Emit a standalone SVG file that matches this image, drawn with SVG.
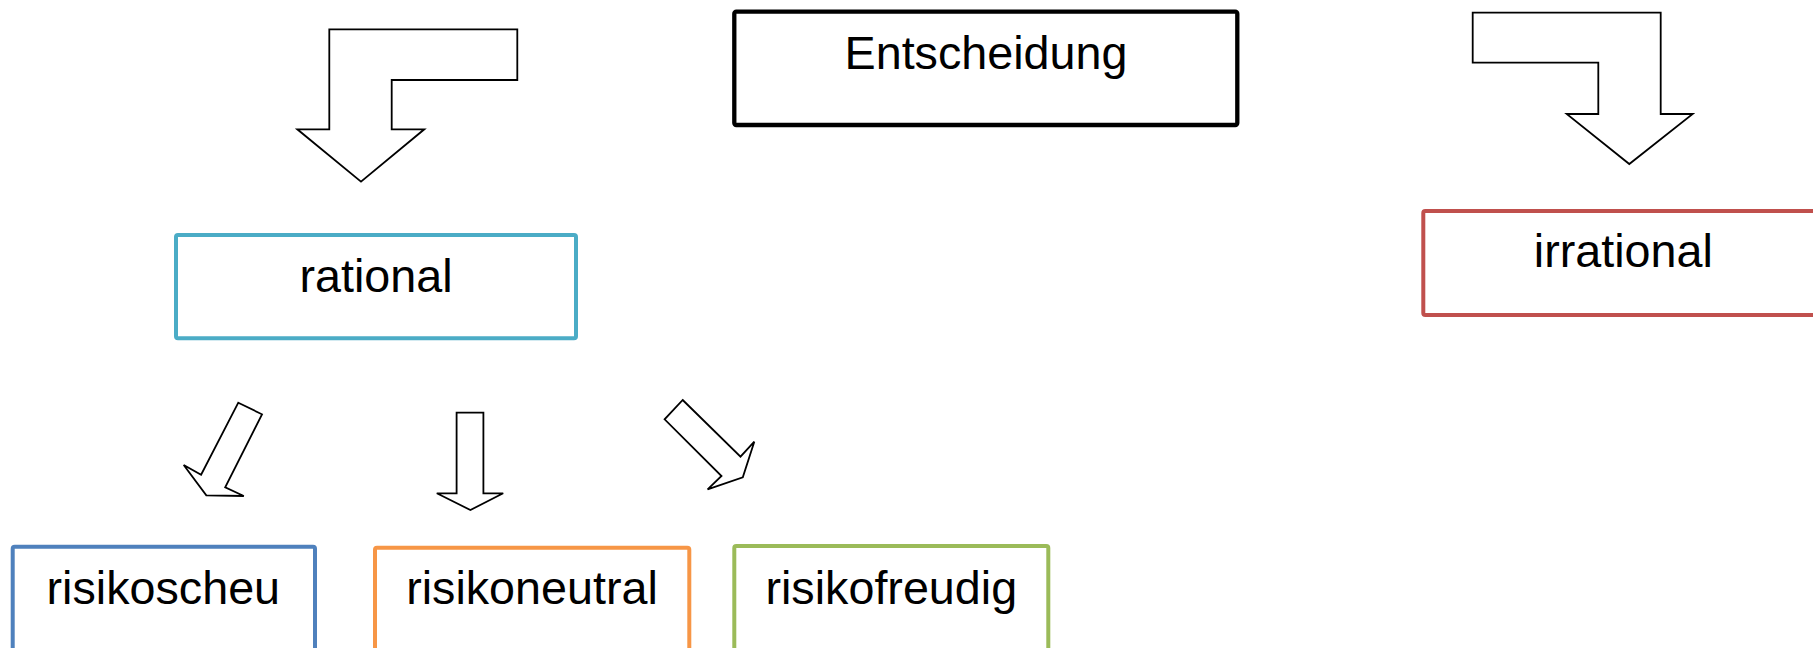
<svg xmlns="http://www.w3.org/2000/svg" width="1813" height="648" viewBox="0 0 1813 648">
<style>
.box{fill:#fff;stroke-width:4;}
.lbl{font-family:"Liberation Sans",Arial,sans-serif;font-size:46.7px;fill:#000;text-anchor:middle;}
.arr{fill:#fff;stroke:#000;stroke-width:1.8;stroke-linejoin:miter;}
</style>
<rect width="1813" height="648" fill="#fff"/>
<g id="connectors">
<polygon class="arr" points="329.3,29.3 517.3,29.3 517.3,80 391.7,80 391.7,129.3 424.3,129.3 361,181.7 297.3,129.3 329.3,129.3"/>
<polygon class="arr" points="1472.7,12.7 1660.7,12.7 1660.7,114 1692.7,114 1629.3,164 1566.7,114 1598.3,114 1598.3,62.7 1472.7,62.7"/>
<polygon class="arr" points="238.3,402.7 262,414.3 225.2,487.3 243.8,496 206.3,495.3 183.7,465 201.1,474.7"/>
<polygon class="arr" points="456.6,412.7 483.4,412.7 483.4,493.3 503.2,493.3 470.4,510 436.8,493.3 456.6,493.3"/>
<polygon class="arr" points="682.7,400 740.5,456.7 754.3,441.7 742.8,477.3 707.6,489.3 721.5,476 664.6,419.3"/>
</g>
<g id="entscheidung">
<rect x="734.3" y="11.7" width="503" height="113.3" rx="2" fill="#fff" stroke="#000" stroke-width="4.3"/>
<text class="lbl" x="986" y="69">Entscheidung</text>
</g>
<g id="rational">
<rect class="box" x="176" y="235" width="400" height="103.3" rx="2" stroke="#4BACC6"/>
<text class="lbl" x="376" y="291.7">rational</text>
</g>
<g id="irrational">
<rect class="box" x="1423.3" y="211" width="400" height="104" rx="2" stroke="#C0504D"/>
<text class="lbl" x="1623.3" y="267.3">irrational</text>
</g>
<g id="risikoscheu">
<rect class="box" x="12.7" y="546.7" width="302.3" height="120" rx="2" stroke="#4F81BD"/>
<text class="lbl" x="163.3" y="604">risikoscheu</text>
</g>
<g id="risikoneutral">
<rect class="box" x="375" y="547.7" width="314.3" height="120" rx="2" stroke="#F79646"/>
<text class="lbl" x="532" y="604">risikoneutral</text>
</g>
<g id="risikofreudig">
<rect class="box" x="734.3" y="546" width="314" height="120" rx="2" stroke="#9BBB59"/>
<text class="lbl" x="891.3" y="604">risikofreudig</text>
</g>
</svg>
